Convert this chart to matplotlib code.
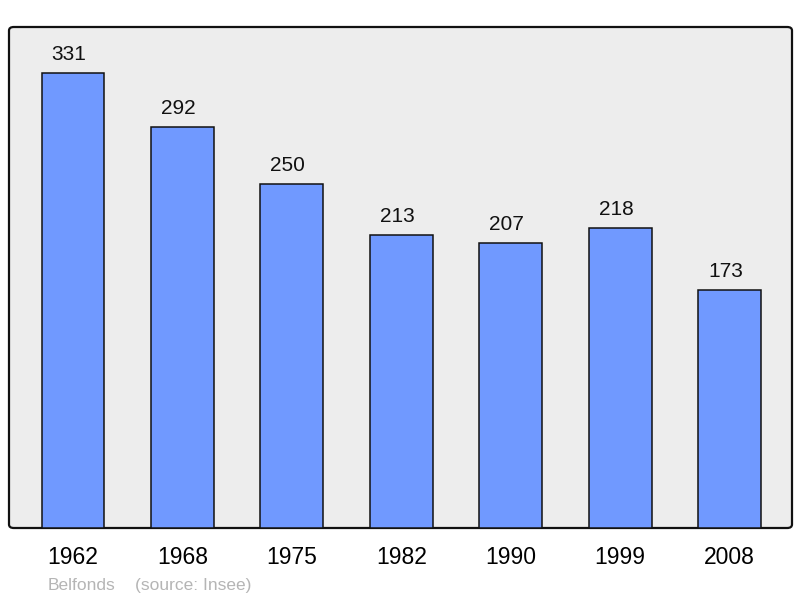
import matplotlib
matplotlib.use("Agg")
import matplotlib.pyplot as plt
from matplotlib.patches import FancyBboxPatch

years = ["1962", "1968", "1975", "1982", "1990", "1999", "2008"]
population = [331, 292, 250, 213, 207, 218, 173]

plt.rcParams['font.family'] = ['Liberation Sans', 'DejaVu Sans']

fig = plt.figure(figsize=(8, 5.98), dpi=100)

# rounded background frame
bg = FancyBboxPatch((9/800, 1-528/598), 783/800, 501/598,
                    boxstyle="round,pad=0,rounding_size=0.006",
                    transform=fig.transFigure, facecolor='#EDEDED',
                    edgecolor='#111111', linewidth=1.6, zorder=0)
fig.patches.append(bg)

ax = fig.add_axes([9/800, 1-528/598, 783/800, 501/598], zorder=2)
ax.set_facecolor('none')

x = list(range(len(years)))
ax.bar(x, population, width=0.575, color='#7099FF', edgecolor='#111111',
       linewidth=1.1, zorder=2)
for xi, v in zip(x, population):
    ax.annotate(str(v), (xi, v), xytext=(-3, 6.5), textcoords='offset points',
                ha='center', va='bottom', fontsize=15, color='#111111')

ax.set_xlim(-0.585, 6.57)
ax.set_ylim(0, 364.4)
ax.set_xticks(x)
ax.set_xticklabels(years, fontsize=16.5)
ax.tick_params(axis='x', length=0, pad=13)
ax.set_yticks([])
for s in ax.spines.values():
    s.set_visible(False)

fig.text(48/800, 1-590/598, "Belfonds", fontsize=12.5, color='#B5B5B5', va='baseline', ha='left')
fig.text(135/800, 1-590/598, "(source: Insee)", fontsize=12.5, color='#B5B5B5', va='baseline', ha='left')

fig.savefig("out.png", dpi=100)
